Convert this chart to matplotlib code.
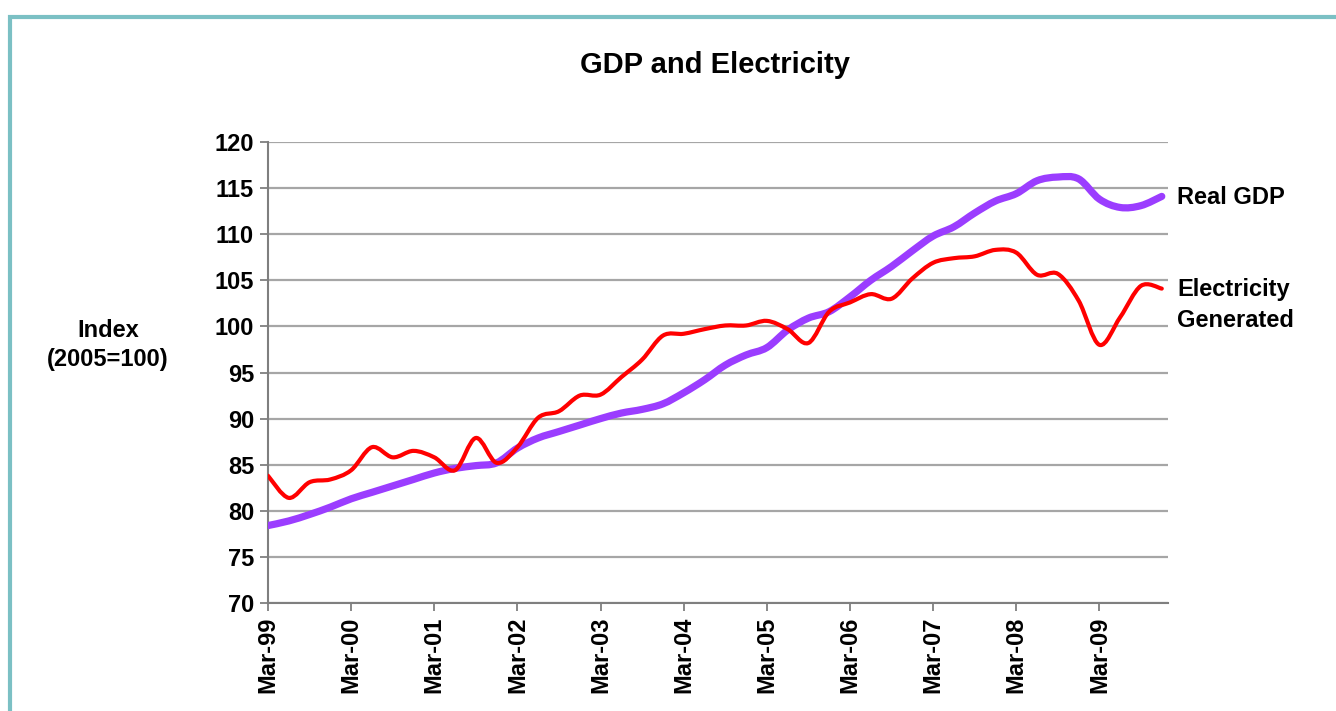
import numpy as np
import matplotlib.pyplot as plt
from matplotlib.path import Path
from matplotlib.patches import PathPatch, Rectangle

plt.rcParams['font.family'] = ['Liberation Sans', 'DejaVu Sans']

# quarterly index values, Mar-99 .. Dec-09 (2005=100)
quarters = np.arange(44)
real_gdp = [78.4, 78.9, 79.6, 80.4, 81.3, 82.0, 82.7, 83.4, 84.1, 84.6, 84.9, 85.2,
            86.8, 87.9, 88.6, 89.3, 90.0, 90.6, 91.0, 91.6, 92.8, 94.2, 95.8, 96.9,
            97.7, 99.6, 100.9, 101.6, 103.2, 105.0, 106.5, 108.2, 109.8, 110.8, 112.3, 113.6,
            114.4, 115.8, 116.2, 116.0, 113.8, 112.9, 113.1, 114.1]
electricity = [83.8, 81.4, 83.1, 83.4, 84.4, 86.9, 85.8, 86.5, 85.8, 84.4, 87.9, 85.2,
               86.9, 90.1, 90.8, 92.5, 92.6, 94.5, 96.4, 99.0, 99.2, 99.7, 100.1, 100.1,
               100.6, 99.7, 98.2, 101.6, 102.6, 103.5, 103.0, 105.2, 106.9, 107.4, 107.6, 108.3,
               108.0, 105.6, 105.7, 102.8, 98.0, 101.0, 104.4, 104.1]
year_labels = ['Mar-99', 'Mar-00', 'Mar-01', 'Mar-02', 'Mar-03', 'Mar-04',
               'Mar-05', 'Mar-06', 'Mar-07', 'Mar-08', 'Mar-09']


def smooth_path(x, y):
    # Excel-style smoothed line: Catmull-Rom segments as cubic Bezier curves
    p = np.column_stack([x, y]).astype(float)
    verts = [p[0]]
    codes = [Path.MOVETO]
    n = len(p)
    for i in range(n - 1):
        p0 = p[i - 1] if i > 0 else p[i]
        p1, p2 = p[i], p[i + 1]
        p3 = p[i + 2] if i + 2 < n else p[i + 1]
        verts += [p1 + (p2 - p0) / 6, p2 - (p3 - p1) / 6, p2]
        codes += [Path.CURVE4] * 3
    return Path(verts, codes)


fig = plt.figure(figsize=(13.36, 7.11), dpi=100)
ax = fig.add_axes([268 / 1336, 1 - 603 / 711, 900 / 1336, 461 / 711])

ax.add_patch(PathPatch(smooth_path(quarters, real_gdp), fill=False, color='#9B3DFF',
                       lw=5.2, capstyle='round', joinstyle='round', zorder=3))
ax.add_patch(PathPatch(smooth_path(quarters, electricity), fill=False, color='#FF0000',
                       lw=3.0, capstyle='round', joinstyle='round', zorder=4))

ax.set_xlim(0, 43.3)
ax.set_ylim(70, 120)
ax.set_yticks(np.arange(70, 121, 5))
ax.set_xticks(quarters[::4])
ax.set_xticklabels(year_labels, rotation=90, fontsize=17, fontweight='bold')
for lab in ax.get_yticklabels():
    lab.set_fontsize(17)
    lab.set_fontweight('bold')

ax.yaxis.grid(True, color='#A6A6A6', lw=1.6)
ax.set_axisbelow(True)
for side in ['top', 'right']:
    ax.spines[side].set_visible(False)
for side in ['left', 'bottom']:
    ax.spines[side].set_color('#7F7F7F')
    ax.spines[side].set_linewidth(1.5)
ax.tick_params(axis='both', color='#7F7F7F', width=1.3, length=6, pad=4)

fig.text(715 / 1336, 1 - 65 / 711, 'GDP and Electricity', ha='center', va='center',
         fontsize=21, fontweight='bold')
fig.text(108 / 1336, 1 - 345 / 711, 'Index\n(2005=100)', ha='center', va='center',
         fontsize=17, fontweight='bold', linespacing=1.3)
fig.text(1177 / 1336, 1 - 197 / 711, 'Real GDP', ha='left', va='center',
         fontsize=17, fontweight='bold')
fig.text(1177 / 1336, 1 - 305 / 711, 'Electricity\nGenerated', ha='left', va='center',
         fontsize=17, fontweight='bold', linespacing=1.4)

# teal frame around the chart area
fig.patches.append(Rectangle((10 / 1336, -0.05), 1.2, 1 - 17 / 711 + 0.05,
                             transform=fig.transFigure, fill=False,
                             edgecolor='#7BC0C4', lw=3))

fig.savefig('out.png', dpi=100)
